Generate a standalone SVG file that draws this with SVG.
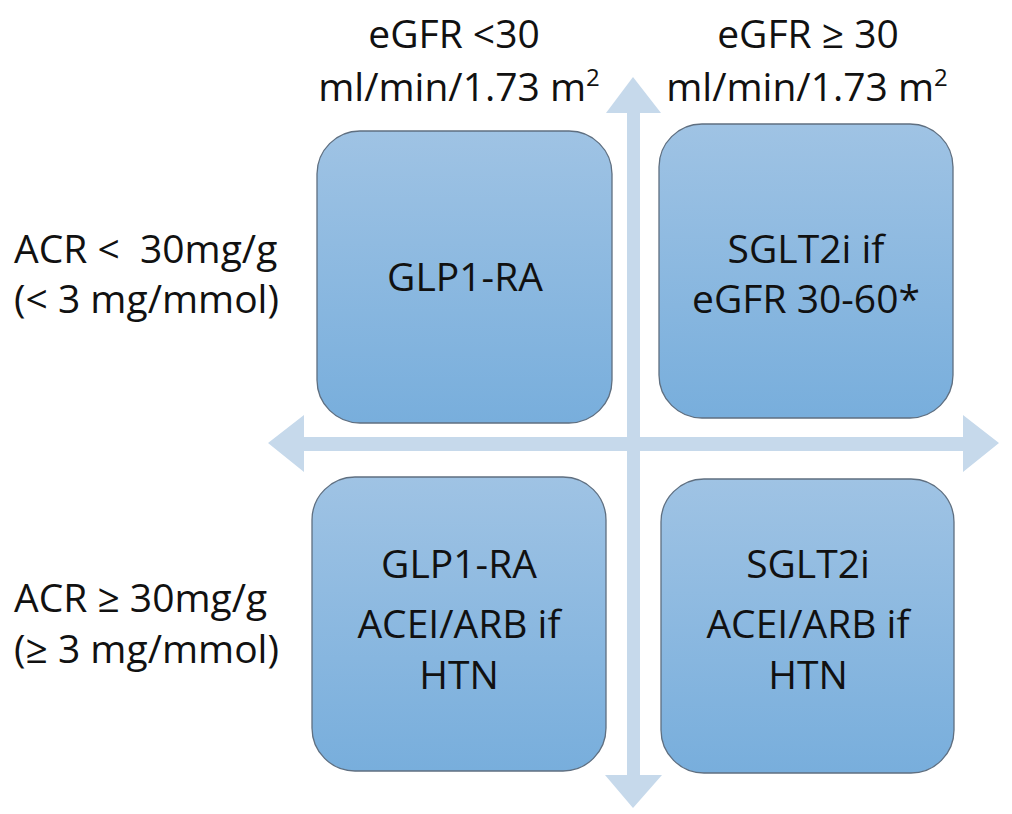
<svg xmlns="http://www.w3.org/2000/svg" width="1012" height="814" viewBox="0 0 1012 814">
<style>
.box{fill:url(#g);stroke:#5f6f80;stroke-width:1.3}
.arrow{fill:#c6d9eb}
text{font-family:"Open Sans","Liberation Sans",sans-serif;font-size:39px;fill:#111}
.c{text-anchor:middle}
</style>
<defs>
<linearGradient id="g" x1="0" y1="0" x2="0" y2="1">
<stop offset="0" stop-color="#9fc3e4"/>
<stop offset="1" stop-color="#78aedc"/>
</linearGradient>
</defs>
<rect width="1012" height="814" fill="#fff"/>
<g id="connectors">
<polygon class="arrow" points="633,77 661,113 640,113 640,775 662,775 633,808 605,775 627,775 627,113 606,113"/>
<polygon class="arrow" points="268,443 304,415 304,437 963,437 963,415 999,443 963,472 963,451 304,451 304,472"/>
</g>
<g id="headers">
<text class="c" x="454" y="48">eGFR &lt;30</text>
<text class="c" x="459" y="101">ml/min/1.73 m<tspan dy="-15" font-size="24">2</tspan></text>
<text class="c" x="808" y="48">eGFR ≥ 30</text>
<text class="c" x="807" y="101">ml/min/1.73 m<tspan dy="-15" font-size="24">2</tspan></text>
</g>
<g id="row-labels">
<text x="14" y="263" xml:space="preserve">ACR &lt;  30mg/g</text>
<text x="14" y="313">(&lt; 3 mg/mmol)</text>
<text x="14" y="612">ACR ≥ 30mg/g</text>
<text x="14" y="663">(≥ 3 mg/mmol)</text>
</g>
<g id="node-tl">
<rect class="box" x="317" y="131" width="295" height="292" rx="43"/>
<text class="c" x="465" y="291">GLP1-RA</text>
</g>
<g id="node-tr">
<rect class="box" x="659" y="124" width="294" height="294" rx="43"/>
<text class="c" x="806" y="263">SGLT2i if</text>
<text class="c" x="806" y="313">eGFR 30-60*</text>
</g>
<g id="node-bl">
<rect class="box" x="312" y="477" width="294" height="294" rx="43"/>
<text class="c" x="459" y="578">GLP1-RA</text>
<text class="c" x="459" y="638">ACEI/ARB if</text>
<text class="c" x="459" y="689">HTN</text>
</g>
<g id="node-br">
<rect class="box" x="661" y="479" width="293" height="294" rx="43"/>
<text class="c" x="808" y="578">SGLT2i</text>
<text class="c" x="808" y="638">ACEI/ARB if</text>
<text class="c" x="808" y="689">HTN</text>
</g>
</svg>
